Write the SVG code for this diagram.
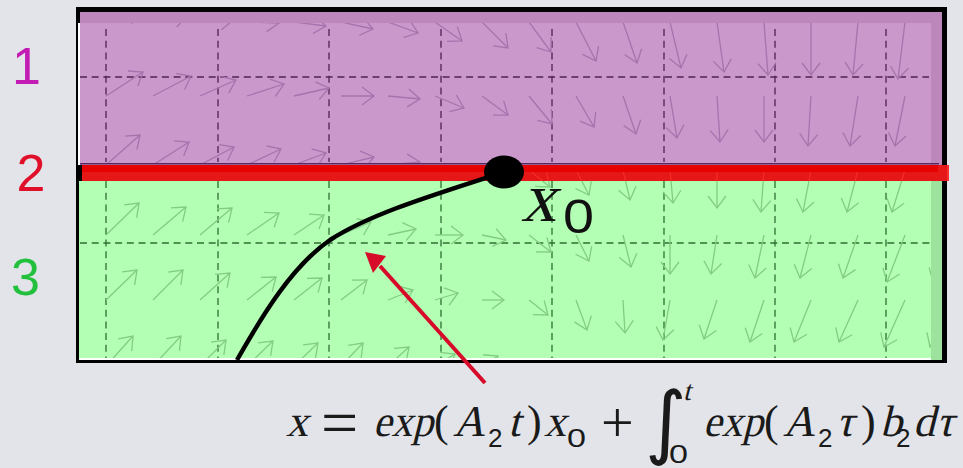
<svg xmlns="http://www.w3.org/2000/svg" width="963" height="468" viewBox="0 0 963 468">
<style>
.pa path{stroke:#a673ad;stroke-width:1.3;fill:none;marker-end:url(#mp)}
.ga path{stroke:#84cc84;stroke-width:1.3;fill:none;marker-end:url(#mg)}
.pgrid{stroke:#4e2352;stroke-width:1.3;stroke-dasharray:7 4.7;fill:none}
.ggrid{stroke:#2f6f33;stroke-width:1.3;stroke-dasharray:7 4.7;fill:none}
.lbl{font-family:'Liberation Sans',Arial,sans-serif;font-size:52px}
.mi{font-family:'Liberation Serif',serif;font-size:44px;fill:#1a1a1a}
.mu{font-family:'Liberation Serif',serif;font-size:44px;fill:#1a1a1a}
.eq{font-family:'Liberation Serif',serif;font-size:66px;fill:#1a1a1a}
.pl{font-family:'Liberation Serif',serif;font-size:58px;fill:#1a1a1a}
.int{font-family:'DejaVu Sans','Liberation Serif',serif;font-size:80px;fill:#1a1a1a}
.sup{font-family:'Liberation Serif',serif;font-size:28px;fill:#1a1a1a}
.ms{font-family:'Liberation Sans',Arial,sans-serif;font-size:26px;fill:#1a1a1a}
.x0{font-family:'Liberation Serif',serif;font-size:70px;fill:#111}
.x0s{font-family:'Liberation Sans',Arial,sans-serif;font-size:48px;fill:#111}
</style>
<defs>
<marker id="mp" markerUnits="userSpaceOnUse" orient="auto" refX="0" refY="0" markerWidth="30" markerHeight="30" overflow="visible"><path d="M-12,-9L0,0L-12,9" fill="none" stroke="#a673ad" stroke-width="1.3"/></marker>
<marker id="mg" markerUnits="userSpaceOnUse" orient="auto" refX="0" refY="0" markerWidth="30" markerHeight="30" overflow="visible"><path d="M-12,-9L0,0L-12,9" fill="none" stroke="#84cc84" stroke-width="1.3"/></marker>
<clipPath id="clipP"><rect x="80" y="23" width="851" height="141"/></clipPath>
<clipPath id="clipG"><rect x="79" y="172" width="852" height="186"/></clipPath>
</defs>
<rect x="0" y="0" width="963" height="468" fill="#e2e4e9"/>
<rect x="76" y="7" width="871" height="356" fill="#000"/>

<g id="region1">
<rect x="80" y="12" width="862" height="153" fill="#cb98cb"/>
<rect x="78" y="23" width="2" height="142" fill="#fff"/>
<g class="pgrid">
<path d="M106 29V162M218 29V162M329 29V162M441 29V162M552 29V162M664 29V162M775 29V162M886 29V162"/>
<path d="M80 77H929"/>
</g>
<g class="pa" clip-path="url(#clipP)">
<path d="M106 22L141 12"/><path d="M153 22L187 16"/><path d="M200 22L233 20"/><path d="M247 22L279 23"/><path d="M294 22L326 26"/><path d="M341 22L373 29"/><path d="M388 22L418 33"/><path d="M435 22L462 41"/><path d="M482 22L508 48"/><path d="M529 22L551 52"/><path d="M576 22L596 61"/><path d="M623 22L637 63"/><path d="M670 22L681 68"/><path d="M717 22L724 72"/><path d="M764 22L768 75"/><path d="M811 22L811 75"/><path d="M858 22L853 75"/><path d="M905 22L898 79"/>
<path d="M106 96L143 72"/><path d="M153 96L191 76"/><path d="M200 96L236 80"/><path d="M247 96L284 84"/><path d="M294 96L329 88"/><path d="M341 96L374 96"/><path d="M388 96L420 99"/><path d="M435 96L464 108"/><path d="M482 96L508 115"/><path d="M529 96L552 124"/><path d="M576 96L594 127"/><path d="M623 96L636 134"/><path d="M670 96L677 138"/><path d="M717 96L720 142"/><path d="M764 96L764 142"/><path d="M811 96L808 146"/><path d="M858 96L850 146"/><path d="M905 96L895 146"/>
<path d="M106 165L140 135"/><path d="M153 165L189 142"/><path d="M200 165L234 147"/><path d="M247 165L281 149"/><path d="M294 165L326 153"/><path d="M341 165L374 157"/><path d="M388 165L420 162"/>
</g>
<rect x="80" y="12" width="862" height="11" fill="#bc88bc"/>
<rect x="931" y="23" width="11" height="142" fill="#bc88bc"/>
<path d="M80 163.8H939" stroke="#5a2860" stroke-width="1.6"/>
</g>

<g id="region3">
<rect x="79" y="181" width="852" height="177" fill="#b3ffb3"/>
<rect x="931" y="181" width="11" height="179" fill="#9de39d"/>
<rect x="79" y="358" width="852" height="2" fill="#fff"/>
<g class="ggrid">
<path d="M106 181V358M218 181V358M329 181V358M441 181V358M552 181V358M664 181V358M775 181V358M886 181V358"/>
<path d="M80 243H930"/>
</g>
<g class="ga" clip-path="url(#clipG)">
<path d="M482 170L506 177"/><path d="M529 170L550 187"/><path d="M576 170L589 195"/><path d="M623 170L630 200"/><path d="M670 170L673 203"/><path d="M717 170L717 208"/><path d="M764 170L761 212"/><path d="M811 170L803 212"/><path d="M858 170L847 212"/><path d="M905 170L892 212"/>
<path d="M106 235L139 203"/><path d="M153 235L186 207"/><path d="M200 235L232 208"/><path d="M247 235L279 213"/><path d="M294 235L324 215"/><path d="M341 235L371 222"/><path d="M388 235L416 229"/><path d="M435 235L463 235"/><path d="M482 235L506 240"/><path d="M529 235L551 252"/><path d="M576 235L589 261"/><path d="M623 235L631 267"/><path d="M670 235L670 274"/><path d="M717 235L711 274"/><path d="M764 235L755 278"/><path d="M811 235L800 278"/><path d="M858 235L843 278"/><path d="M905 235L887 282"/><path d="M952 235L933 282"/>
<path d="M106 300L137 270"/><path d="M153 300L183 270"/><path d="M200 300L230 273"/><path d="M247 300L276 277"/><path d="M294 300L322 278"/><path d="M341 300L367 280"/><path d="M388 300L413 290"/><path d="M435 300L458 293"/><path d="M482 300L504 300"/><path d="M529 300L548 315"/><path d="M576 300L587 330"/><path d="M623 300L625 333"/><path d="M670 300L663 340"/><path d="M717 300L704 339"/><path d="M764 300L750 342"/><path d="M811 300L794 342"/><path d="M858 300L839 342"/><path d="M905 300L884 347"/><path d="M952 300L930 347"/>
<path d="M106 366L133 336"/><path d="M153 366L181 336"/><path d="M200 366L226 340"/><path d="M247 366L273 341"/><path d="M294 366L318 343"/><path d="M341 366L363 343"/><path d="M388 366L409 347"/><path d="M435 366L455 354"/><path d="M482 366L498 356"/>
</g>
</g>

<g id="boundary2">
<rect x="82" y="165" width="867" height="16" fill="#ff1a1a" fill-opacity="0.9"/>
<rect x="82" y="165" width="856" height="7" fill="#e60000"/>
</g>

<g id="labels" class="lbl">
<text x="12" y="84" fill="#c21cb4">1</text>
<text x="16.5" y="191" fill="#e0102a">2</text>
<text x="11" y="295" fill="#22c03c">3</text>
</g>

<g id="trajectory">
<path d="M237 360C262 316 292 266 330 240C370 214 430 196 504 172" fill="none" stroke="#000" stroke-width="4.5"/>
<ellipse cx="504" cy="172" rx="20" ry="16.5" fill="#000"/>
</g>

<g id="x0-label">
<text transform="translate(521 221) skewX(-14)" class="x0">x</text>
<text x="563" y="233" class="x0s" textLength="31" lengthAdjust="spacingAndGlyphs">0</text>
</g>

<g id="connectors">
<path d="M485 383L380 266" stroke="#d80a2a" stroke-width="4" fill="none"/>
<polygon points="365,252 386,256 373,273" fill="#d80a2a"/>
</g>

<g id="formula">
<text transform="translate(286 435.5) skewX(-14)" class="mi">x</text>
<text x="321" y="445" class="eq">=</text>
<text transform="translate(373 435.5) skewX(-14)" class="mi" textLength="60" lengthAdjust="spacingAndGlyphs">exp</text>
<text x="434" y="435.5" class="mu">(</text>
<text transform="translate(453 435.5) skewX(-14)" class="mi">A</text>
<text x="488" y="446.5" class="ms">2</text>
<text transform="translate(508 435.5) skewX(-14)" class="mi">t</text>
<text x="527" y="435.5" class="mu">)</text>
<text transform="translate(544 435.5) skewX(-14)" class="mi">x</text>
<text x="567" y="446.5" class="ms" textLength="19" lengthAdjust="spacingAndGlyphs">0</text>
<text x="601" y="442" class="pl">+</text>
<text x="645" y="449" class="int">∫</text>
<text transform="translate(683 400) skewX(-14)" class="sup">t</text>
<text x="669" y="463" class="ms" textLength="19" lengthAdjust="spacingAndGlyphs">0</text>
<text transform="translate(703 435.5) skewX(-14)" class="mi" textLength="60" lengthAdjust="spacingAndGlyphs">exp</text>
<text x="764" y="435.5" class="mu">(</text>
<text transform="translate(783 435.5) skewX(-14)" class="mi">A</text>
<text x="818" y="446.5" class="ms">2</text>
<text transform="translate(836 435.5) skewX(-14)" class="mi">τ</text>
<text x="861" y="435.5" class="mu">)</text>
<text transform="translate(880 435.5) skewX(-14)" class="mi">b</text>
<text x="896" y="446.5" class="ms">2</text>
<text transform="translate(913 435.5) skewX(-14)" class="mi">d</text>
<text transform="translate(936 435.5) skewX(-14)" class="mi">τ</text>
</g>
</svg>
